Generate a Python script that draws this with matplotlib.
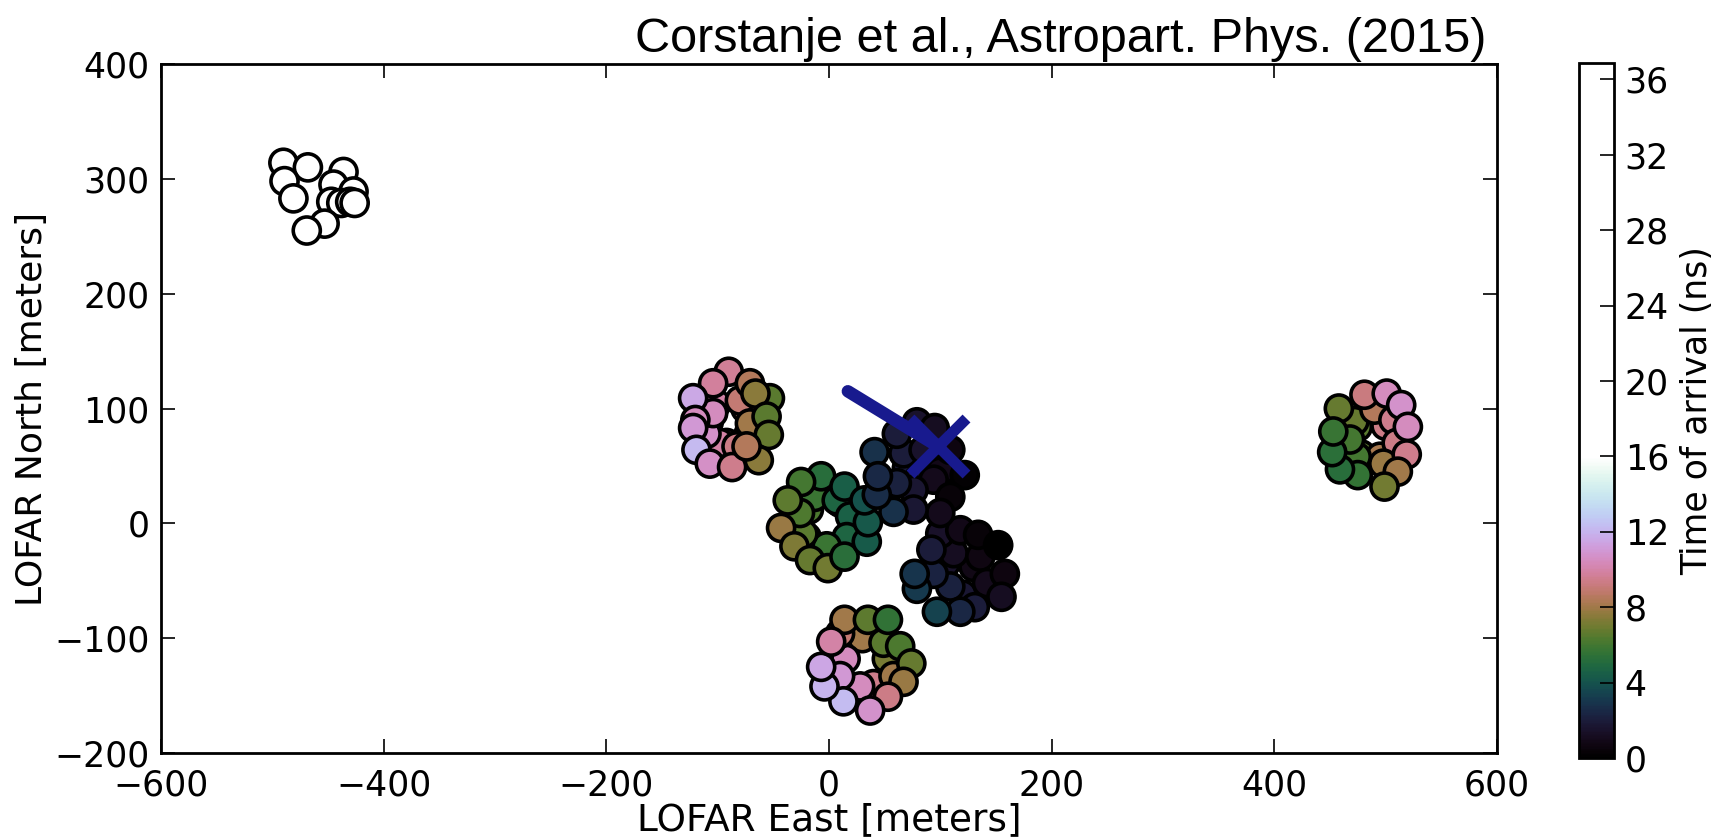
import numpy as np
import matplotlib
matplotlib.use("Agg")
import matplotlib.pyplot as plt
from matplotlib.colors import ListedColormap

# antenna positions (m) and arrival times (ns), one block per station
# (inner antennas first so the outer ring is drawn on top)
# station far north-west (all late -> white)
x_nw = [-490, -468, -489, -481, -436, -445, -427, -447, -438, -430, -426, -453, -469]
y_nw = [314, 310, 298, 283, 306, 295, 289, 280, 279, 280, 279, 261, 255]
t_nw = [34, 35, 34, 33, 36, 35, 36, 34, 35, 35, 36, 33, 32]

# station west of superterp
x_w = [-75, -108, -92, -72, -101, -80, -71, -98, -83, -110, -104,
       -90, -104, -122, -71, -53, -66, -56, -54, -120, -122, -119, -107, -87, -63, -74]
y_w = [100, 88, 70, 78, 104, 107, 87, 70, 67, 78, 96,
       132, 122, 109, 122, 109, 113, 93, 77, 90, 83, 64, 52, 49, 55, 67]
t_w = [8.8, 10.7, 9.6, 8.2, 10.0, 9.0, 8.0, 10.0, 9.3, 10.7, 10.5,
       9.6, 9.8, 11.6, 8.5, 6.5, 7.5, 6.5, 6.8, 10.5, 11.0, 12.2, 10.6, 9.5, 7.5, 8.5]

# superterp centre station
x_c = [-18, -5, 10, -20, -13, 7, 19, 16, -2, -23, -26,
       -7, -25, 14, -37, -43, -31, -17, -1, 14, 34, 35, 32]
y_c = [12, -22, 18, -12, 23, 20, 6, -12, -20, -9, 9,
       41, 36, 32, 20, -4, -20, -32, -39, -29, -16, 1, 20]
t_c = [6.2, 6.3, 5.0, 6.8, 5.8, 4.8, 4.6, 4.8, 5.8, 6.5, 6.3,
       5.2, 6.0, 4.5, 6.6, 7.8, 7.3, 6.8, 7.0, 5.3, 4.3, 4.2, 4.0]

# station north-east of centre
x_ne = [70, 90, 80, 100, 67, 85, 94, 76, 61,
        41, 61, 79, 95, 109, 122, 109, 100, 76, 58, 43, 44]
y_ne = [48, 52, 38, 45, 61, 64, 38, 29, 35,
        62, 78, 88, 83, 64, 42, 23, 9, 12, 10, 25, 41]
t_ne = [2.0, 1.3, 1.7, 0.9, 2.0, 1.5, 1.0, 1.7, 2.2,
        2.8, 2.0, 1.5, 1.2, 0.6, 0.2, 0.4, 1.0, 1.8, 2.8, 2.6, 2.5]

# station south-east of centre
x_se = [105, 130, 120, 112, 136, 142, 109, 94,
        100, 118, 134, 152, 158, 155, 131, 118, 97, 79, 77, 92]
y_se = [-35, -38, -62, -26, -29, -52, -55, -44,
        -9, -6, -10, -19, -44, -64, -73, -77, -77, -57, -44, -23]
t_se = [1.5, 0.8, 1.8, 1.2, 0.7, 1.0, 2.2, 2.3,
        1.4, 0.9, 0.4, 0.0, 0.6, 1.2, 2.0, 2.4, 3.4, 3.1, 2.9, 2.0]

# station south of centre
x_s = [30, 15, 52, 40, 10, 49, 58, 28, 10,
       14, 35, 53, 64, 74, 67, 53, 37, 13, -4, -7, 2]
y_s = [-100, -118, -118, -140, -96, -104, -133, -142, -133,
       -84, -84, -84, -107, -122, -138, -151, -163, -155, -142, -125, -103]
t_s = [8.0, 10.5, 7.2, 9.5, 9.0, 6.5, 8.0, 10.5, 11.0,
       8.0, 6.6, 5.5, 6.2, 6.8, 7.8, 9.3, 10.8, 12.3, 12.0, 11.5, 10.0]

# station far east
x_e = [500, 478, 495, 475, 472, 490, 507, 510, 498, 474, 468,
       458, 481, 501, 514, 520, 519, 511, 499, 475, 459, 452, 453]
y_e = [85, 60, 58, 84, 89, 99, 90, 70, 52, 58, 73,
       100, 112, 113, 103, 84, 60, 45, 32, 42, 47, 62, 80]
t_e = [9.3, 6.5, 8.2, 6.5, 6.8, 8.5, 9.5, 9.3, 7.8, 6.0, 6.0,
       6.8, 9.2, 10.5, 10.8, 10.5, 9.5, 8.0, 7.0, 5.6, 5.2, 5.4, 5.7]

# reconstructed shower core and direction
core_x, core_y = 98, 67
dir_x, dir_y = 17, 115

t_max = 36.9
t_white = 16.0

x_all = np.concatenate([x_nw, x_w, x_c, x_s, x_e, x_se, x_ne])
y_all = np.concatenate([y_nw, y_w, y_c, y_s, y_e, y_se, y_ne])
t_all = np.concatenate([t_nw, t_w, t_c, t_s, t_e, t_se, t_ne])

# cubehelix up to ~16 ns, white after that
n = 512
k = int(round(n * t_white / t_max))
cols = np.vstack([plt.cm.cubehelix(np.linspace(0, 1, k)),
                  np.ones((n - k, 4))])
cmap = ListedColormap(cols)

plt.rcParams['font.family'] = 'DejaVu Sans'
fig = plt.figure(figsize=(17.23, 8.39), dpi=100)
ax = fig.add_axes([0.0934, 0.1025, 0.7754, 0.8212])
cax = fig.add_axes([0.9165, 0.0965, 0.0200, 0.8290])

sc = ax.scatter(x_all, y_all, c=t_all, cmap=cmap, vmin=0, vmax=t_max,
                s=380, edgecolors='black', linewidths=2.6, zorder=2)
ax.plot([dir_x, core_x], [dir_y, core_y], color='#181a8e', lw=9,
        solid_capstyle='round', zorder=3)
ax.plot(core_x, core_y, marker='x', color='#181a8e', ms=40, mew=8,
        zorder=4)

ax.set_xlim(-600, 600)
ax.set_ylim(-200, 400)
ax.set_xticks(np.arange(-600, 601, 200))
ax.set_yticks(np.arange(-200, 401, 100))
ax.tick_params(direction='in', length=10, width=1.2, labelsize=25,
               top=True, right=True)
ax.tick_params(axis='x', pad=11)
ax.tick_params(axis='y', pad=8)
for sp in ax.spines.values():
    sp.set_linewidth(2)
ax.set_xlabel('LOFAR East [meters]', fontsize=27, labelpad=0)
ax.set_ylabel('LOFAR North [meters]', fontsize=26, labelpad=4)

fig.text(0.8625, 0.9385, 'Corstanje et al., Astropart. Phys. (2015)',
         ha='right', va='baseline', fontsize=35, family='Liberation Sans')

cb = fig.colorbar(sc, cax=cax, ticks=np.arange(0, 37, 4))
cb.outline.set_linewidth(2)
cb.ax.tick_params(direction='in', length=10, width=1.2, labelsize=25, pad=8)
cb.set_label('Time of arrival (ns)', fontsize=25, labelpad=8)

fig.savefig('out.png', dpi=100)
